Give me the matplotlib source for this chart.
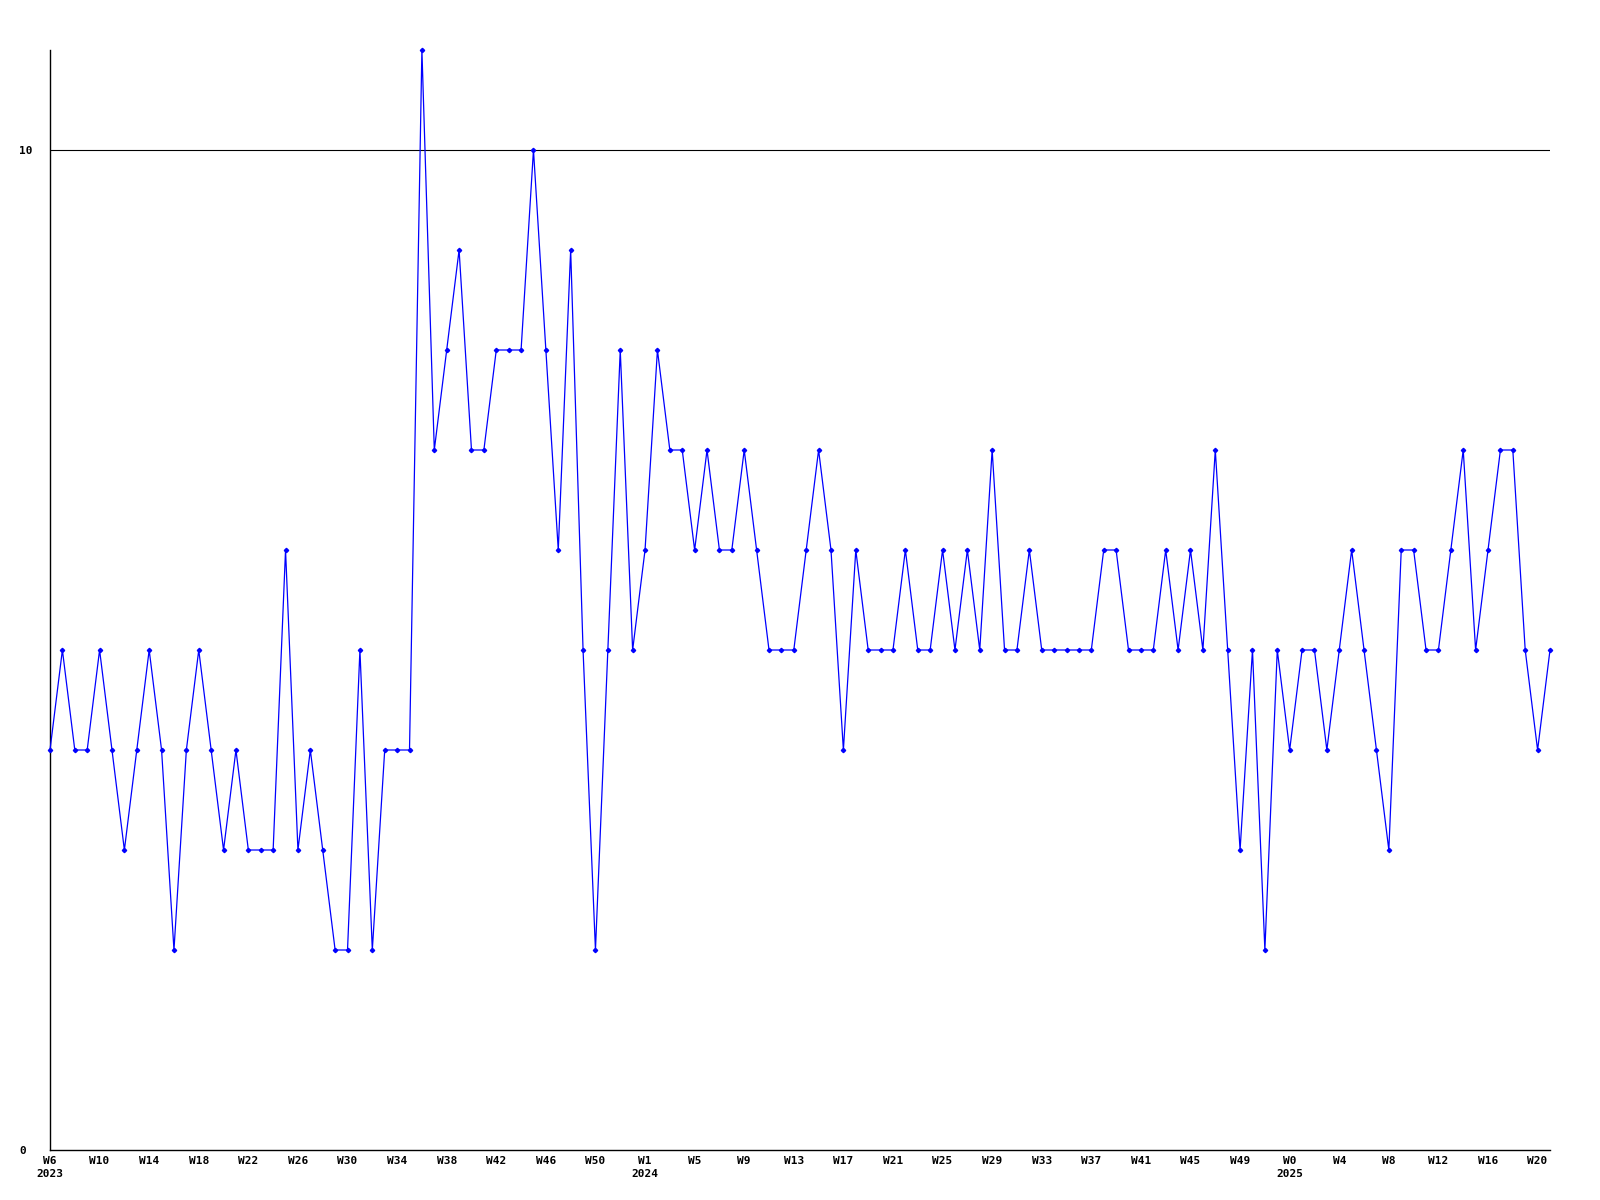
import matplotlib
matplotlib.use("Agg")
import matplotlib.pyplot as plt
import numpy as np

# weekly values, 2023 W6 .. 2025 W21
values = [4, 5, 4, 4, 5, 4, 3, 4, 5, 4, 2, 4, 5, 4, 3, 4, 3, 3, 3, 6, 3, 4, 3, 2, 2,
          5, 2, 4, 4, 4, 11, 7, 8, 9, 7, 7, 8, 8, 8, 10, 8, 6, 9, 5, 2, 5, 8, 5, 6, 8,
          7, 7, 6, 7, 6, 6, 7, 6, 5, 5, 5, 6, 7, 6, 4, 6, 5, 5, 5, 6, 5, 5, 6, 5, 6,
          5, 7, 5, 5, 6, 5, 5, 5, 5, 5, 6, 6, 5, 5, 5, 6, 5, 6, 5, 7, 5, 3, 5, 2, 5,
          4, 5, 5, 4, 5, 6, 5, 4, 3, 6, 6, 5, 5, 6, 7, 5, 6, 7, 7, 5, 4, 5]

# one label every 4th point
tick_weeks = ["W6", "W10", "W14", "W18", "W22", "W26", "W30", "W34", "W38", "W42",
              "W46", "W50", "W1", "W5", "W9", "W13", "W17", "W21", "W25", "W29",
              "W33", "W37", "W41", "W45", "W49", "W0", "W4", "W8", "W12", "W16", "W20"]
year_at_tick = {0: "2023", 12: "2024", 25: "2025"}

mono = "DejaVu Sans Mono"

fig = plt.figure(figsize=(16, 12), dpi=100)
ax = fig.add_axes([50 / 1600, 50 / 1200, 1500 / 1600, 1100 / 1200])

x = np.arange(len(values))
ax.plot(x, values, color="#0000ff", lw=0.9, marker="D", ms=2.2,
        mec="#0000ff", mfc="#0000ff", clip_on=False, zorder=3)

ax.set_xlim(0, len(values) - 1)
ax.set_ylim(0, 11)

for s in ["top", "right"]:
    ax.spines[s].set_visible(False)
for s in ["left", "bottom"]:
    ax.spines[s].set_linewidth(1.0)
    ax.spines[s].set_color("black")

ax.axhline(10, color="black", lw=0.8, zorder=1)

ax.set_yticks([0, 10])
ax.set_yticklabels(["0", "10"], fontfamily=mono, fontweight="bold", fontsize=8)
for lab in ax.get_yticklabels():
    lab.set_horizontalalignment("left")
ax.tick_params(axis="y", length=0, pad=22)

ticks = np.arange(0, len(values), 4)
labels = []
for k, w in enumerate(tick_weeks):
    labels.append(w + "\n" + year_at_tick[k] if k in year_at_tick else w)
ax.set_xticks(ticks)
ax.set_xticklabels(labels, fontfamily=mono, fontweight="bold", fontsize=8,
                   linespacing=1.45)
ax.tick_params(axis="x", length=0, pad=4)

fig.savefig("out.png", dpi=100)
